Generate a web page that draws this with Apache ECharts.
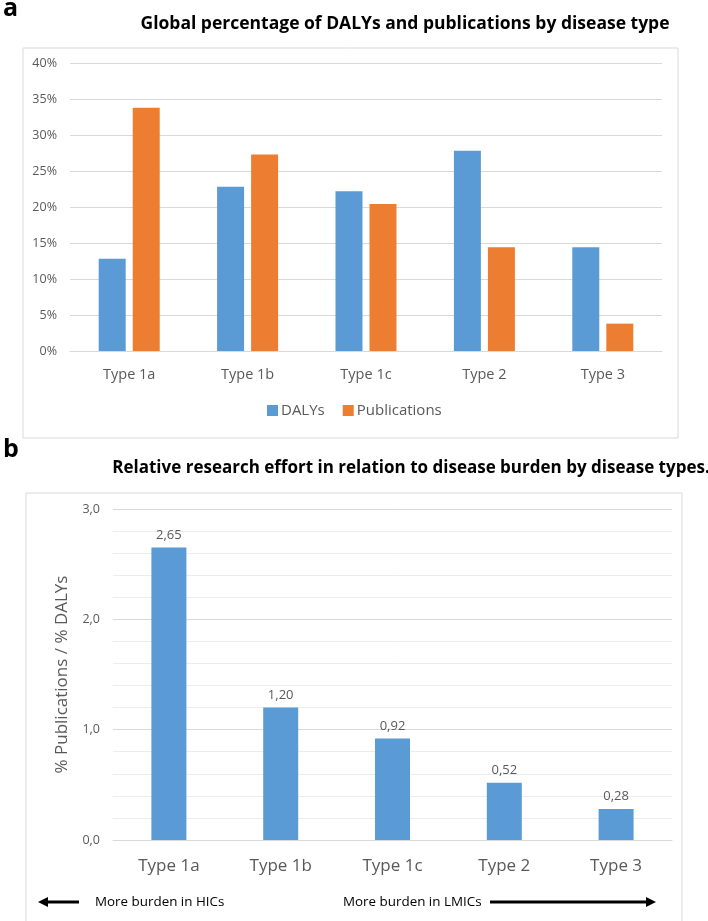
<!DOCTYPE html>
<html>
<head>
<meta charset="utf-8">
<script src="https://cdn.jsdelivr.net/npm/echarts@6/dist/echarts.min.js"></script>
<style>
  html, body { margin: 0; padding: 0; background: #fff; }
  #chart { width: 708px; height: 921px; }
</style>
</head>
<body>
<div id="chart"></div>
<script>
// categories shared by both panels
var types = ['Type 1a', 'Type 1b', 'Type 1c', 'Type 2', 'Type 3'];
// panel a: global share (%)
var dalys = [12.8, 22.8, 22.2, 27.8, 14.4];
var publications = [33.8, 27.3, 20.4, 14.4, 3.8];
// panel b: % publications / % DALYs
var ratio = [2.65, 1.20, 0.92, 0.52, 0.28];

var blue = '#5B9BD5';
var orange = '#ED7D31';
var gray = '#595959';
var font = 'Open Sans';

var chart = echarts.init(document.getElementById('chart'));

chart.setOption({
  animation: false,
  textStyle: { fontFamily: font },
  title: [
    {
      text: 'Global percentage of DALYs and publications by disease type',
      left: 400, top: 10, textAlign: 'center',
      textStyle: { fontSize: 17.5, fontWeight: 'bold', color: '#000', fontFamily: font }
    },
    {
      text: 'Relative research effort in relation to disease burden by disease types.',
      left: 406, top: 455, textAlign: 'center',
      textStyle: { fontSize: 17, fontWeight: 'bold', color: '#000', fontFamily: font }
    }
  ],
  legend: {
    data: ['DALYs', 'Publications'],
    left: 262, top: 398,
    itemWidth: 11, itemHeight: 11, itemGap: 18,
    icon: 'rect',
    textStyle: { fontSize: 15, color: gray, fontFamily: font, padding: [0, 0, 0, -2] }
  },
  grid: [
    { left: 70, right: 46, top: 63, height: 288 },
    { left: 113, right: 36, top: 509, height: 331 }
  ],
  xAxis: [
    {
      gridIndex: 0, type: 'category', data: types,
      axisLine: { lineStyle: { color: '#d9d9d9' } },
      axisTick: { show: false },
      axisLabel: { color: gray, fontSize: 14.5, margin: 16 }
    },
    {
      gridIndex: 1, type: 'category', data: types,
      axisLine: { lineStyle: { color: '#d9d9d9' } },
      axisTick: { show: false },
      axisLabel: { color: gray, fontSize: 17, margin: 18 }
    }
  ],
  yAxis: [
    {
      gridIndex: 0, type: 'value', min: 0, max: 40, interval: 5,
      axisLine: { show: false }, axisTick: { show: false },
      axisLabel: { color: gray, fontSize: 12.5, margin: 13, formatter: '{value}%' },
      splitLine: { lineStyle: { color: '#d9d9d9' } }
    },
    {
      gridIndex: 1, type: 'value', min: 0, max: 3, interval: 1,
      name: '% Publications / % DALYs', nameLocation: 'middle', nameGap: 42,
      nameTextStyle: { color: gray, fontSize: 17 },
      axisLine: { show: false }, axisTick: { show: false },
      axisLabel: {
        color: gray, fontSize: 12.5, margin: 13,
        formatter: function (v) { return v.toFixed(1).replace('.', ','); }
      },
      splitLine: { lineStyle: { color: '#d9d9d9' } },
      minorTick: { show: false, splitNumber: 5 },
      minorSplitLine: { show: true, lineStyle: { color: '#ececec' } }
    }
  ],
  series: [
    {
      name: 'DALYs', type: 'bar', xAxisIndex: 0, yAxisIndex: 0,
      data: dalys, barWidth: 27, barGap: '26%',
      itemStyle: { color: blue }
    },
    {
      name: 'Publications', type: 'bar', xAxisIndex: 0, yAxisIndex: 0,
      data: publications, barWidth: 27, barGap: '26%',
      itemStyle: { color: orange }
    },
    {
      name: 'ratio', type: 'bar', xAxisIndex: 1, yAxisIndex: 1,
      data: ratio, barWidth: 35,
      itemStyle: { color: blue },
      label: {
        show: true, position: 'top', distance: 6,
        color: gray, fontSize: 13,
        formatter: function (p) { return p.value.toFixed(2).replace('.', ','); }
      }
    }
  ],
  graphic: [
    // panel frames
    { type: 'rect', shape: { x: 23, y: 48, width: 655, height: 390 },
      style: { fill: 'none', stroke: '#d9d9d9', lineWidth: 1 }, z: -1 },
    { type: 'rect', shape: { x: 26, y: 493, width: 656, height: 440 },
      style: { fill: 'none', stroke: '#d9d9d9', lineWidth: 1 }, z: -1 },
    // panel letters
    { type: 'text', left: 3, top: -4,
      style: { text: 'a', font: 'bold 25px ' + font, fill: '#000' } },
    { type: 'text', left: 3, top: 437,
      style: { text: 'b', font: 'bold 25px ' + font, fill: '#000' } },
    // burden arrows
    { type: 'line', shape: { x1: 46, y1: 902, x2: 79, y2: 902 },
      style: { stroke: '#000', lineWidth: 3 } },
    { type: 'polygon', shape: { points: [[38, 902], [48, 897], [48, 907]] },
      style: { fill: '#000' } },
    { type: 'text', x: 95, y: 902,
      style: { text: 'More burden in HICs', font: '13.4px ' + font, fill: '#000', textVerticalAlign: 'middle' } },
    { type: 'text', x: 343, y: 902,
      style: { text: 'More burden in LMICs', font: '13.4px ' + font, fill: '#000', textVerticalAlign: 'middle' } },
    { type: 'line', shape: { x1: 490, y1: 902, x2: 647, y2: 902 },
      style: { stroke: '#000', lineWidth: 3 } },
    { type: 'polygon', shape: { points: [[656, 902], [646, 897], [646, 907]] },
      style: { fill: '#000' } }
  ]
});
</script>
</body>
</html>
